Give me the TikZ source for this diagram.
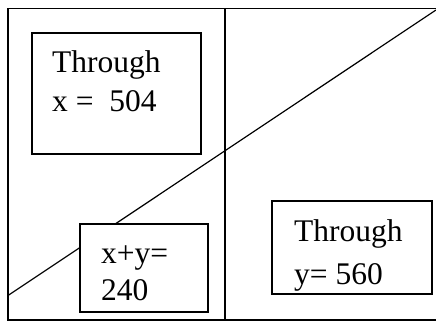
\documentclass[tikz,border=0pt]{standalone}
\usepackage{fontspec}
\setmainfont{Liberation Serif}
\begin{document}
\begin{tikzpicture}[x=1pt,y=-1pt,
  box/.style={draw=black,fill=white,line width=1.3pt,inner sep=0pt},
  lbl/.style={anchor=base west,inner sep=0pt,font=\fontsize{31.5}{38}\selectfont},
  frame/.style={line width=1.4pt,line cap=rect}]
\useasboundingbox (0,0) rectangle (436,321);
\coordinate (tl) at (8,8.5);
\coordinate (tr) at (436,8.5);
\coordinate (bl) at (8,320);
\coordinate (br) at (436,320);
\coordinate (dt) at (225,8.5);
\coordinate (db) at (225,320);
\coordinate (d1) at (8,295.5);
\coordinate (d2) at (436,10);
\draw[frame] (tl) -- (tr);
\draw[frame] (tl) -- (bl);
\draw[frame] (bl) -- (br);
\draw[frame] (dt) -- (db);
\draw[line width=1.2pt] (d1) -- (d2);
\node[box,minimum width=169pt,minimum height=121pt] (b1) at (116.5,93.5) {};
\node[box,minimum width=128pt,minimum height=88pt] (b2) at (144,268) {};
\node[box,minimum width=160pt,minimum height=93pt] (b3) at (352,247.5) {};
\node[lbl] (t1a) at (52,73) {Through};
\node[lbl] (t1b) at (52,111) {x =\ \ 504};
\node[lbl] (t2a) at (101,263) {x+y=};
\node[lbl] (t2b) at (101,300) {240};
\node[lbl] (t3a) at (294,241) {Through};
\node[lbl] (t3b) at (294,284) {y= 560};
\end{tikzpicture}
\end{document}
